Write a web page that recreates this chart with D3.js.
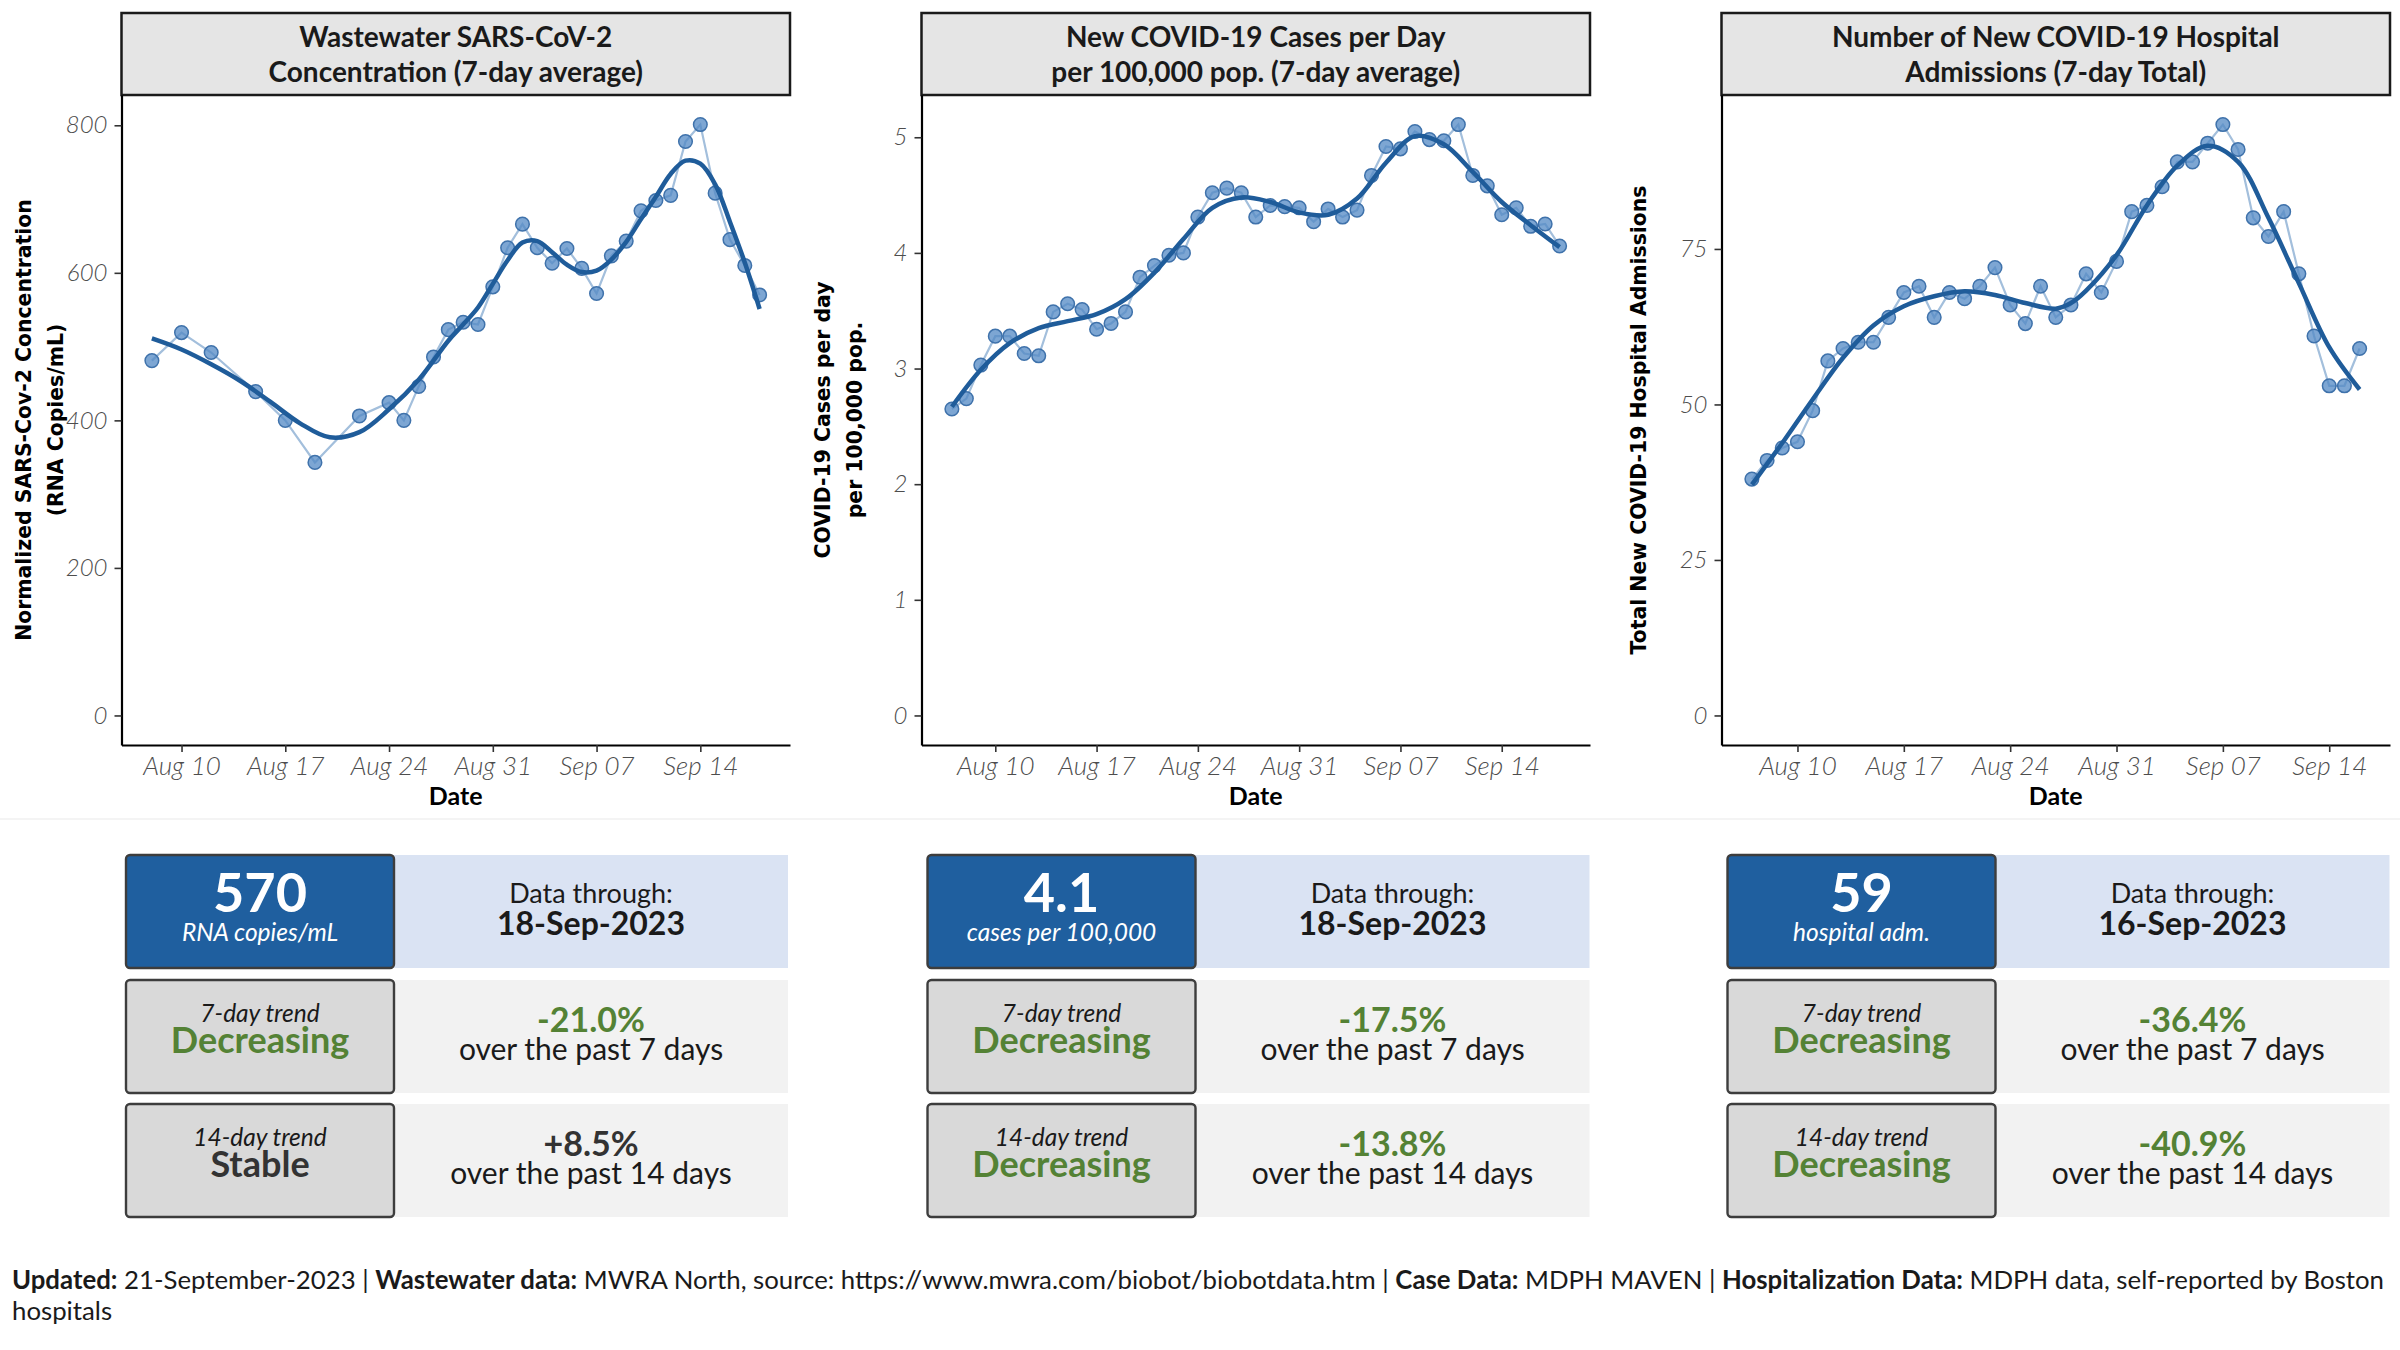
<!DOCTYPE html>
<html>
<head>
<meta charset="utf-8">
<script src="https://cdn.jsdelivr.net/npm/d3@7"></script>
<style>
  body { margin: 0; background: #fff; }
  svg { display: block; font-family: Lato, "Open Sans", sans-serif; }
</style>
</head>
<body>
<div id="container"></div>
<script>
// ---- data ----
const wwDates = ["08-08","08-10","08-12","08-15","08-17","08-19","08-22","08-24","08-25","08-26","08-27",
  "08-28","08-29","08-30","08-31","09-01","09-02","09-03","09-04","09-05","09-06","09-07","09-08","09-09",
  "09-10","09-11","09-12","09-13","09-14","09-15","09-16","09-17","09-18"];
const wwValues = [481,519,492,439,400,343,406,424,400,446,486,523,533,530,581,634,666,634,613,633,606,
  572,623,643,684,698,705,778,801,708,645,610,570];
const wwSmoothDates = ["08-08","08-10","08-12","08-14","08-16","08-18","08-20","08-22","08-24","08-26",
  "08-28","08-29","08-30","08-31","09-01","09-02","09-03","09-04","09-05","09-06","09-07","09-08","09-09",
  "09-10","09-11","09-12","09-13","09-14","09-15","09-16","09-17","09-18"];
const wwSmoothValues = [511,496,476,453,425,396,377,384,415,455,508,530,553,585,617,641,643,628,611,601,
  603,618,642,673,703,734,752,748,720,669,614,551];

const caseDates = ["08-07","08-08","08-09","08-10","08-11","08-12","08-13","08-14","08-15","08-16","08-17",
  "08-18","08-19","08-20","08-21","08-22","08-23","08-24","08-25","08-26","08-27","08-28","08-29","08-30",
  "08-31","09-01","09-02","09-03","09-04","09-05","09-06","09-07","09-08","09-09","09-10","09-11","09-12",
  "09-13","09-14","09-15","09-16","09-17","09-18"];
const caseValues = [2.65,2.74,3.03,3.28,3.28,3.13,3.11,3.49,3.56,3.51,3.34,3.39,3.49,3.79,3.89,3.98,4.00,
  4.31,4.52,4.56,4.52,4.31,4.41,4.40,4.39,4.27,4.38,4.31,4.37,4.67,4.92,4.90,5.05,4.98,4.97,5.11,4.67,
  4.58,4.33,4.39,4.23,4.25,4.06];
const caseSmoothDates = ["08-07","08-09","08-11","08-13","08-15","08-17","08-19","08-21","08-23","08-25",
  "08-27","08-29","08-31","09-02","09-04","09-06","09-08","09-10","09-12","09-14","09-16","09-18"];
const caseSmoothValues = [2.67,2.99,3.22,3.35,3.41,3.47,3.60,3.83,4.12,4.39,4.48,4.44,4.35,4.33,4.47,
  4.78,5.01,4.94,4.70,4.44,4.24,4.05];

const hospDates = ["08-07","08-08","08-09","08-10","08-11","08-12","08-13","08-14","08-15","08-16","08-17",
  "08-18","08-19","08-20","08-21","08-22","08-23","08-24","08-25","08-26","08-27","08-28","08-29","08-30",
  "08-31","09-01","09-02","09-03","09-04","09-05","09-06","09-07","09-08","09-09","09-10","09-11","09-12",
  "09-13","09-14","09-15","09-16"];
const hospValues = [38,41,43,44,49,57,59,60,60,64,68,69,64,68,67,69,72,66,63,69,64,66,71,68,73,81,82,85,
  89,89,92,95,91,80,77,81,71,61,53,53,59];
const hospSmoothDates = ["08-07","08-09","08-11","08-13","08-15","08-17","08-19","08-21","08-23","08-25",
  "08-27","08-28","08-29","08-31","09-02","09-04","09-06","09-08","09-10","09-12","09-14","09-16"];
const hospSmoothValues = [37.1,43.8,50.8,57.5,62.7,65.8,67.4,68.2,67.6,66.3,65.4,66.3,68.3,74,82,88.4,
  91.6,89,80,69.5,59.2,52.4];

const xTickDates = ["08-10","08-17","08-24","08-31","09-07","09-14"];
const wwTicks = [0, 200, 400, 600, 800];
const caseTicks = [0, 1, 2, 3, 4, 5];
const hospTicks = [0, 25, 50, 75];

const titles = [
  ["Wastewater SARS-CoV-2", "Concentration (7-day average)"],
  ["New COVID-19 Cases per Day", "per 100,000 pop. (7-day average)"],
  ["Number of New COVID-19 Hospital", "Admissions (7-day Total)"]
];
const yTitles = [
  ["Normalized SARS-Cov-2 Concentration", "(RNA Copies/mL)"],
  ["COVID-19 Cases per day", "per 100,000 pop."],
  ["Total New COVID-19 Hospital Admissions"]
];

const bigValues = ["570", "4.1", "59"];
const units = ["RNA copies/mL", "cases per 100,000", "hospital adm."];
const throughDates = ["18-Sep-2023", "18-Sep-2023", "16-Sep-2023"];
const trend7 = ["Decreasing", "Decreasing", "Decreasing"];
const change7 = ["-21.0%", "-17.5%", "-36.4%"];
const trend14 = ["Stable", "Decreasing", "Decreasing"];
const change14 = ["+8.5%", "-13.8%", "-40.9%"];

// ---- layout ----
const W = 2400, H = 1350;
const axisX = [121.5, 921.5, 1721.5];
const plotW = 668.5, plotTop = 95, plotBottom = 745;
const tableX = [126, 927.5, 1727.5];
const rowTop = [855, 980, 1104], rowH = 113, leftW = 268, rightW = 394;

const green = "#548235", dark = "#333333";
const parseDay = (s) => d3.timeParse("%Y-%m-%d")("2023-" + s);

const svg = d3
  .select("#container")
  .append("svg")
  .attr("width", W)
  .attr("height", H);

svg.append("rect").attr("width", W).attr("height", H).attr("fill", "#fff");
svg.append("line")
  .attr("x1", 0).attr("x2", W).attr("y1", 819).attr("y2", 819)
  .attr("stroke", "#f1f1f1").attr("stroke-width", 1.5);

const panels = [
  { dates: wwDates, values: wwValues, sDates: wwSmoothDates, sValues: wwSmoothValues, ticks: wwTicks, yOff: [-91, -59] },
  { dates: caseDates, values: caseValues, sDates: caseSmoothDates, sValues: caseSmoothValues, ticks: caseTicks, yOff: [-92, -60] },
  { dates: hospDates, values: hospValues, sDates: hospSmoothDates, sValues: hospSmoothValues, ticks: hospTicks, yOff: [-76] },
];

// y-axis titles: size chosen so the longest first line matches the reference length
let yTitleSize = 22;
{
  const probe = svg.append("text")
    .attr("font-family", "'DejaVu Sans', sans-serif")
    .attr("font-weight", 700)
    .attr("font-size", 22)
    .text(yTitles[0][0]);
  yTitleSize = 22 * 442 / probe.node().getComputedTextLength();
  probe.remove();
}

panels.forEach((p, i) => {
  const x0 = axisX[i];
  const pts = p.dates.map((d, k) => ({ date: parseDay(d), value: p.values[k] }));
  const smooth = p.sDates.map((d, k) => ({ date: parseDay(d), value: p.sValues[k] }));

  const [t0, t1] = d3.extent(pts, (d) => d.date);
  const pad = (t1 - t0) * 0.05;
  const x = d3.scaleTime()
    .domain([new Date(+t0 - pad), new Date(+t1 + pad)])
    .range([x0, x0 + plotW]);
  const ymax = d3.max(pts, (d) => d.value);
  const y = d3.scaleLinear()
    .domain([-0.05 * ymax, 1.05 * ymax])
    .range([plotBottom, plotTop]);

  const g = svg.append("g");

  // strip title
  g.append("rect")
    .attr("x", x0).attr("y", 13).attr("width", plotW).attr("height", plotTop - 13)
    .attr("fill", "#e5e5e5").attr("stroke", "#1a1a1a").attr("stroke-width", 2.5);
  g.selectAll(".title")
    .data(titles[i])
    .join("text")
    .attr("x", x0 + plotW / 2)
    .attr("y", (d, k) => 47 + k * 35)
    .attr("text-anchor", "middle")
    .attr("font-size", 28)
    .attr("font-weight", 700)
    .attr("fill", "#1a1a1a")
    .text((d) => d);

  // axes
  const yAxis = g.append("g")
    .attr("transform", `translate(${x0},0)`)
    .call(d3.axisLeft(y).tickValues(p.ticks).tickFormat(d3.format("~g"))
      .tickSize(7).tickSizeOuter(0).tickPadding(7));
  const xAxis = g.append("g")
    .attr("transform", `translate(0,${plotBottom})`)
    .call(d3.axisBottom(x)
      .tickValues(xTickDates.map(parseDay))
      .tickFormat(d3.timeFormat("%b %d"))
      .tickSize(7).tickSizeOuter(0).tickPadding(5));

  [yAxis, xAxis].forEach((a) => {
    a.select(".domain").attr("stroke", "#000").attr("stroke-width", 2.2);
    a.selectAll(".tick line").attr("stroke", "#333").attr("stroke-width", 1.6);
    a.selectAll(".tick text")
      .attr("font-family", "Lato, sans-serif")
      .attr("font-style", "italic")
      .attr("font-weight", 300)
      .attr("fill", "#4d4d4d");
  });
  yAxis.selectAll(".tick text").attr("font-size", 24);
  xAxis.selectAll(".tick text").attr("font-size", 26);

  g.append("text")
    .attr("x", x0 + plotW / 2).attr("y", 805)
    .attr("text-anchor", "middle")
    .attr("font-size", 25).attr("font-weight", 700)
    .text("Date");

  yTitles[i].forEach((line, k) => {
    g.append("text")
      .attr("transform", `translate(${x0 + p.yOff[k]},${(plotTop + plotBottom) / 2}) rotate(-90)`)
      .attr("text-anchor", "middle")
      .attr("font-family", "'DejaVu Sans', sans-serif")
      .attr("font-size", yTitleSize)
      .attr("font-weight", 700)
      .attr("fill", "#000")
      .text(line);
  });

  // raw series
  g.append("path")
    .datum(pts)
    .attr("fill", "none")
    .attr("stroke", "#a3bfdc")
    .attr("stroke-width", 2.2)
    .attr("d", d3.line().x((d) => x(d.date)).y((d) => y(d.value)));

  g.selectAll("circle")
    .data(pts)
    .join("circle")
    .attr("cx", (d) => x(d.date))
    .attr("cy", (d) => y(d.value))
    .attr("r", 6.8)
    .attr("fill", "#5288c4")
    .attr("fill-opacity", 0.75)
    .attr("stroke", "#3f72ab")
    .attr("stroke-width", 1.5);

  // smoothed trend
  g.append("path")
    .datum(smooth)
    .attr("fill", "none")
    .attr("stroke", "#1f5c9a")
    .attr("stroke-width", 4.5)
    .attr("d", d3.line().curve(d3.curveCatmullRom.alpha(0.5)).x((d) => x(d.date)).y((d) => y(d.value)));

  // summary table
  const tx = tableX[i];
  const t = svg.append("g");
  const cx = tx + leftW / 2, rx = tx + leftW + rightW / 2;

  const rows = [
    { fill: "#1f5f9f", rfill: "#dae3f3" },
    { fill: "#d9d9d9", rfill: "#f2f2f2" },
    { fill: "#d9d9d9", rfill: "#f2f2f2" },
  ];
  rows.forEach((r, k) => {
    t.append("rect")
      .attr("x", tx + leftW).attr("y", rowTop[k]).attr("width", rightW).attr("height", rowH)
      .attr("fill", r.rfill);
    t.append("rect")
      .attr("x", tx).attr("y", rowTop[k]).attr("width", leftW).attr("height", rowH)
      .attr("rx", 4).attr("fill", r.fill).attr("stroke", "#3d3d3d").attr("stroke-width", 2.4);
  });

  const txt = (xx, yy, s, size, opts = {}) =>
    t.append("text")
      .attr("x", xx).attr("y", yy)
      .attr("text-anchor", "middle")
      .attr("font-size", size)
      .attr("font-weight", opts.weight || 400)
      .attr("font-style", opts.italic ? "italic" : "normal")
      .attr("fill", opts.fill || "#1a1a1a")
      .text(s);

  txt(cx, rowTop[0] + 57, bigValues[i], 54, { weight: 700, fill: "#fff" });
  txt(cx, rowTop[0] + 86, units[i], 24.5, { italic: true, fill: "#fff" });
  txt(rx, rowTop[0] + 48, "Data through:", 27);
  txt(rx, rowTop[0] + 80, throughDates[i], 32, { weight: 700 });

  const trendRows = [
    { label: "7-day trend", trend: trend7[i], change: change7[i], days: 7 },
    { label: "14-day trend", trend: trend14[i], change: change14[i], days: 14 },
  ];
  trendRows.forEach((r, k) => {
    const top = rowTop[k + 1];
    const col = r.trend === "Decreasing" ? green : dark;
    txt(cx, top + 42, r.label, 24.5, { italic: true });
    txt(cx, top + 73, r.trend, 36, { weight: 700, fill: col });
    txt(rx, top + 52, r.change, 34, { weight: 700, fill: col });
    txt(rx, top + 80, `over the past ${r.days} days`, 30);
  });
});

// footer
const footerParts = [
  ["Updated:", true], [" 21-September-2023 | ", false],
  ["Wastewater data:", true], [" MWRA North, source: https://www.mwra.com/biobot/biobotdata.htm | ", false],
  ["Case Data:", true], [" MDPH MAVEN | ", false],
  ["Hospitalization Data:", true], [" MDPH data, self-reported by Boston", false],
];
const footer = svg.append("text")
  .attr("x", 12).attr("y", 1289)
  .attr("font-size", 24)
  .attr("fill", "#1a1a1a")
  .attr("xml:space", "preserve");
footer.selectAll("tspan")
  .data(footerParts)
  .join("tspan")
  .attr("font-weight", (d) => (d[1] ? 700 : 400))
  .text((d) => d[0]);
const fl = footer.node().getComputedTextLength();
const fsize = 24 * 2373 / fl;
footer.attr("font-size", fsize);
svg.append("text")
  .attr("x", 12).attr("y", 1320)
  .attr("font-size", fsize)
  .attr("fill", "#1a1a1a")
  .text("hospitals");
</script>
</body>
</html>
